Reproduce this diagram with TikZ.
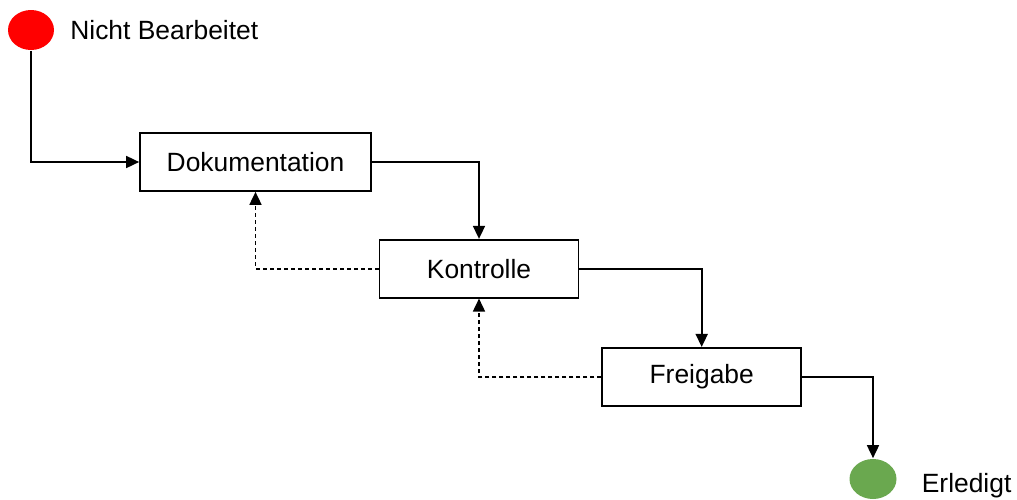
\documentclass[tikz,border=0pt]{standalone}
\usepackage{fontspec}
\setmainfont{Liberation Sans}
\usepackage{tikz}
\usetikzlibrary{arrows.meta,positioning,shapes.geometric}

\definecolor{doneGreen}{HTML}{6AA84F}

\begin{document}
\begin{tikzpicture}[x=0.5pt,y=-0.5pt,->,>={Triangle[width=6pt,length=6.5pt]},line width=0.85pt,
                    font=\fontsize{13.2}{16}\selectfont,
                    state box/.style={rectangle,draw,minimum height=29pt,inner sep=0pt},
                    start node/.style={ellipse,fill=red,minimum width=23pt,minimum height=20pt,inner sep=0pt},
                    done node/.style={ellipse,fill=doneGreen,minimum width=23.5pt,minimum height=20pt,inner sep=0pt},
                    elbow/.style={to path={-| (\tikztotarget)}},
                    elbow down/.style={to path={|- (\tikztotarget)}},
                    back/.style={dash pattern=on 2pt off 1.5pt}]
\useasboundingbox (0,0) rectangle (1017,499);

\node[start node] (start) at (31,30) [label={[label distance=4pt]right:Nicht Bearbeitet}] {};
\node[state box,minimum width=115.5pt] (doku) at (255.5,162) {Dokumentation};
\node[state box,minimum width=99.5pt] (kon) [below right=23.5pt and 3.4pt of doku.south east] {Kontrolle};
\node[state box,minimum width=99.5pt] (frei) [below right=24.2pt and 11pt of kon.south east] {Freigabe};
\node[done node] (done) at (873,479) [label={[label distance=8.5pt,yshift=-3.5pt]right:Erledigt}] {};

\path (start.south) edge[elbow down] (doku.west)
      (doku.east) edge[elbow] (kon.north)
      (kon.east) edge[elbow] (frei.north)
      (frei.east) edge[elbow] (done.north);
\path[back] (kon.west) edge[elbow] (doku.south)
            (frei.west) edge[elbow] (kon.south);
\end{tikzpicture}
\end{document}
